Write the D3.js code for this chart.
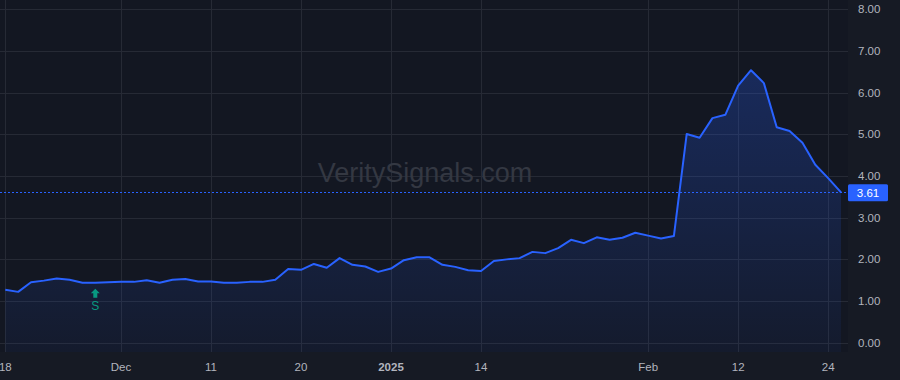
<!DOCTYPE html>
<html>
<head>
<meta charset="utf-8">
<script src="https://cdn.jsdelivr.net/npm/d3@7"></script>
<style>
  html, body { margin: 0; padding: 0; background: #161a24; }
  svg { display: block; font-family: "Liberation Sans", Arial, sans-serif; }
</style>
</head>
<body>
<div id="chart"></div>
<script>
// trading days, Nov 18 2024 -> Feb 25 2025
const dates = [
  "2024-11-18","2024-11-19","2024-11-20","2024-11-21","2024-11-22","2024-11-25","2024-11-26","2024-11-27","2024-11-29",
  "2024-12-02","2024-12-03","2024-12-04","2024-12-05","2024-12-06","2024-12-09","2024-12-10","2024-12-11","2024-12-12",
  "2024-12-13","2024-12-16","2024-12-17","2024-12-18","2024-12-19","2024-12-20","2024-12-23","2024-12-24","2024-12-26",
  "2024-12-27","2024-12-30","2024-12-31",
  "2025-01-02","2025-01-03","2025-01-06","2025-01-07","2025-01-08","2025-01-10","2025-01-13","2025-01-14","2025-01-15",
  "2025-01-16","2025-01-17","2025-01-21","2025-01-22","2025-01-23","2025-01-24","2025-01-27","2025-01-28","2025-01-29",
  "2025-01-30","2025-01-31",
  "2025-02-03","2025-02-04","2025-02-05","2025-02-06","2025-02-07","2025-02-10","2025-02-11","2025-02-12","2025-02-13",
  "2025-02-14","2025-02-18","2025-02-19","2025-02-20","2025-02-21","2025-02-24","2025-02-25"
];
const prices = [
  1.27, 1.22, 1.45, 1.49, 1.54, 1.51, 1.44, 1.44, 1.45,
  1.46, 1.46, 1.50, 1.44, 1.51, 1.53, 1.47, 1.47, 1.44,
  1.44, 1.46, 1.46, 1.51, 1.77, 1.75, 1.89, 1.80, 2.03,
  1.87, 1.83, 1.70,
  1.78, 1.98, 2.05, 2.05, 1.87, 1.82, 1.74, 1.72, 1.96,
  2.00, 2.03, 2.18, 2.15, 2.27, 2.47, 2.39, 2.53, 2.47,
  2.52, 2.64,
  2.57, 2.50, 2.56, 5.01, 4.92, 5.39, 5.47, 6.17, 6.54,
  6.23, 5.17, 5.08, 4.80, 4.27, 3.95, 3.61
];
const xTicks = ["2024-11-18","2024-12-02","2024-12-11","2024-12-20","2025-01-02","2025-01-14","2025-02-03","2025-02-12","2025-02-24"];
const xTickLabels = ["18","Dec","11","20","2025","14","Feb","12","24"];
const yTicks = [0, 1, 2, 3, 4, 5, 6, 7, 8];
const signalDates = ["2024-11-27"];
const signalLabels = ["S"];
const lastPrice = 3.61;

const W = 900, H = 380;
const plotRight = 848, plotBottom = 352;

const svg = d3.select("#chart").append("svg")
  .attr("width", W).attr("height", H);

svg.append("rect").attr("width", W).attr("height", H).attr("fill", "#161a24");
svg.append("rect").attr("width", plotRight).attr("height", plotBottom).attr("fill", "#131722");

const step = 90 / 7;
const x = d3.scalePoint()
  .domain(dates)
  .range([5.3, 5.3 + step * (dates.length - 1)]);

const y = d3.scaleLinear().domain([0, 8]).range([342.7, 9.4]);

// gridlines
svg.append("g").selectAll("line.h").data(yTicks).enter().append("line")
  .attr("x1", 0).attr("x2", plotRight)
  .attr("y1", d => Math.round(y(d)) + 0.5).attr("y2", d => Math.round(y(d)) + 0.5)
  .attr("stroke", "#262a35").attr("stroke-width", 1);
svg.append("g").selectAll("line.v").data(xTicks).enter().append("line")
  .attr("x1", d => Math.round(x(d)) + 0.5).attr("x2", d => Math.round(x(d)) + 0.5)
  .attr("y1", 0).attr("y2", plotBottom)
  .attr("stroke", "#262a35").attr("stroke-width", 1);

// watermark
svg.append("text")
  .attr("x", 425).attr("y", 182)
  .attr("text-anchor", "middle")
  .attr("font-size", 27)
  .attr("fill", "#343842")
  .text("VeritySignals.com");

// area
const defs = svg.append("defs");
const grad = defs.append("linearGradient").attr("id", "fillGrad")
  .attr("x1", 0).attr("y1", 0).attr("x2", 0).attr("y2", 1);
grad.append("stop").attr("offset", "0%").attr("stop-color", "#2962ff").attr("stop-opacity", 0.26);
grad.append("stop").attr("offset", "100%").attr("stop-color", "#2962ff").attr("stop-opacity", 0.05);

const pts = dates.map((d, i) => ({ d: d, v: prices[i] }));

svg.append("path").datum(pts)
  .attr("fill", "url(#fillGrad)")
  .attr("d", d3.area().x(p => x(p.d)).y0(plotBottom).y1(p => y(p.v)));

svg.append("path").datum(pts)
  .attr("fill", "none")
  .attr("stroke", "#2962ff")
  .attr("stroke-width", 2)
  .attr("stroke-linejoin", "round")
  .attr("d", d3.line().x(p => x(p.d)).y(p => y(p.v)));

// last price line
svg.append("line")
  .attr("x1", 0).attr("x2", plotRight)
  .attr("y1", Math.round(y(lastPrice)) + 0.5).attr("y2", Math.round(y(lastPrice)) + 0.5)
  .attr("stroke", "#2962ff").attr("stroke-width", 1)
  .attr("stroke-dasharray", "2,2");

// signal markers
signalDates.forEach((sd, i) => {
  const sx = x(sd);
  const v = prices[dates.indexOf(sd)];
  const top = y(v) + 6;
  svg.append("path")
    .attr("d", `M${sx},${top} L${sx + 4.5},${top + 4.5} L${sx + 2},${top + 4.5} L${sx + 2},${top + 9} L${sx - 2},${top + 9} L${sx - 2},${top + 4.5} L${sx - 4.5},${top + 4.5} Z`)
    .attr("fill", "#089981");
  svg.append("text")
    .attr("x", sx).attr("y", top + 21)
    .attr("text-anchor", "middle")
    .attr("font-size", 12)
    .attr("fill", "#089981")
    .text(signalLabels[i]);
});

// y axis labels
svg.append("g").selectAll("text").data(yTicks).enter().append("text")
  .attr("x", 858).attr("y", d => y(d) + 4)
  .attr("font-size", 11.5)
  .attr("fill", "#b2b5be")
  .text(d => d3.format(".2f")(d));

// x axis labels
svg.append("g").selectAll("text").data(xTicks).enter().append("text")
  .attr("x", d => x(d)).attr("y", 371)
  .attr("text-anchor", "middle")
  .attr("font-size", 11.5)
  .attr("font-weight", (d, i) => xTickLabels[i] === "2025" ? "bold" : "normal")
  .attr("fill", "#b2b5be")
  .text((d, i) => xTickLabels[i]);

// last price tag
const ly = y(lastPrice);
svg.append("rect")
  .attr("x", plotRight).attr("y", ly - 8).attr("width", 40).attr("height", 17)
  .attr("rx", 1.5)
  .attr("fill", "#2962ff");
svg.append("text")
  .attr("x", 868).attr("y", ly + 4.5)
  .attr("text-anchor", "middle")
  .attr("font-size", 11.5)
  .attr("fill", "#ffffff")
  .text(d3.format(".2f")(lastPrice));
</script>
</body>
</html>
